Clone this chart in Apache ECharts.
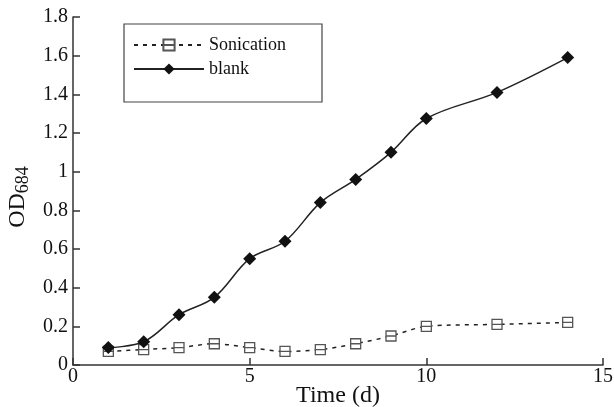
<!DOCTYPE html>
<html><head><meta charset="utf-8">
<script src="https://cdn.jsdelivr.net/npm/echarts@6/dist/echarts.min.js"></script>
<style>html,body{margin:0;padding:0;background:#fff}#c{width:614px;height:407px}</style>
</head><body><div id="c"></div>
<script>
const days = [1, 2, 3, 4, 5, 6, 7, 8, 9, 10, 12, 14];
const sonication = [0.07, 0.08, 0.09, 0.11, 0.09, 0.07, 0.08, 0.11, 0.15, 0.20, 0.21, 0.22];
const blank = [0.09, 0.12, 0.26, 0.35, 0.55, 0.64, 0.84, 0.96, 1.10, 1.275, 1.41, 1.59];
const xTicks = [0, 5, 10, 15];
const yTicks = [0, 0.2, 0.4, 0.6, 0.8, 1, 1.2, 1.4, 1.6, 1.8];

const F = 'Liberation Serif';
const chart = echarts.init(document.getElementById('c'), null, {renderer: 'canvas'});
chart.setOption({
  animation: false,
  backgroundColor: '#fff',
  textStyle: {fontFamily: F, color: '#111'},
  grid: {left: 73, right: 11, top: 17, bottom: 42, containLabel: false, outerBoundsMode: 'none'},
  legend: {
    orient: 'vertical', left: 124, top: 24,
    padding: [12, 36, 24, 9], itemGap: 6,
    itemWidth: 70, itemHeight: 14,
    borderColor: '#444', borderWidth: 1.2,
    textStyle: {fontFamily: F, fontSize: 18, color: '#111'},
    data: ['Sonication', 'blank']
  },
  xAxis: {
    type: 'value', min: 0, max: 15, interval: 5,
    name: 'Time (d)', nameLocation: 'middle', nameGap: 19, nameMoveOverlap: false,
    nameTextStyle: {fontFamily: F, fontSize: 24, color: '#111'},
    axisLine: {onZero: false, lineStyle: {color: '#333', width: 1.5}},
    axisTick: {inside: true, length: 7, lineStyle: {color: '#333', width: 1.5}},
    axisLabel: {fontFamily: F, fontSize: 20, color: '#111', margin: 2,
      formatter: v => xTicks.includes(v) ? String(v) : ''},
    splitLine: {show: false}
  },
  yAxis: {
    type: 'value', min: 0, max: 1.8, interval: 0.2,
    name: 'OD{s|684}', nameLocation: 'middle', nameGap: 41, nameRotate: 90, nameMoveOverlap: false,
    nameTextStyle: {fontFamily: F, fontSize: 24, color: '#111', padding: [0, 12, 0, 0],
      rich: {s: {fontFamily: F, fontSize: 18, color: '#111', verticalAlign: 'bottom', padding: [10, 0, 0, 0]}}},
    axisLine: {show: true, lineStyle: {color: '#333', width: 1.5}},
    axisTick: {show: true, inside: true, length: 7, lineStyle: {color: '#333', width: 1.5}},
    axisLabel: {fontFamily: F, fontSize: 20, color: '#111', margin: 5,
      formatter: v => { const t = yTicks.find(k => Math.abs(k - v) < 1e-6); return t === undefined ? '' : String(t); }},
    splitLine: {show: false}
  },
  series: [
    {
      name: 'Sonication', type: 'line', smooth: 0.3,
      data: days.map((d, i) => [d, sonication[i]]),
      symbol: 'path://M0,0L10,0L10,10L0,10Z M0,5L10,5', symbolSize: 10,
      itemStyle: {color: '#fff', borderColor: '#555', borderWidth: 1.3},
      lineStyle: {color: '#222', width: 1.5, type: [4, 5]},
      z: 2
    },
    {
      name: 'blank', type: 'line', smooth: 0.35,
      data: days.map((d, i) => [d, blank[i]]),
      symbol: 'diamond', symbolSize: 13,
      itemStyle: {color: '#111'},
      lineStyle: {color: '#222', width: 1.5},
      z: 3
    }
  ]
});
</script></body></html>
